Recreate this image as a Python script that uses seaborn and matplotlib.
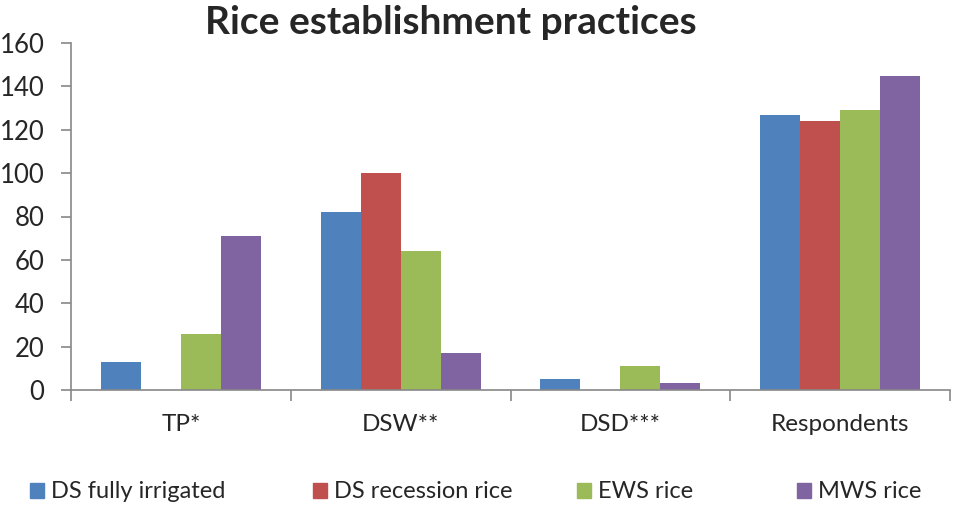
import pandas as pd
import numpy as np
import matplotlib
matplotlib.use('Agg')
import matplotlib.pyplot as plt
import seaborn as sns

categories = ['TP*', 'DSW**', 'DSD***', 'Respondents']
ds_fully_irrigated = [13, 82, 5, 127]
ds_recession_rice = [0, 100, 0, 124]
ews_rice = [26, 64, 11, 129]
mws_rice = [71, 17, 3, 145]
series_names = ['DS fully irrigated', 'DS recession rice', 'EWS rice', 'MWS rice']
colors = ['#4F81BD', '#C0504D', '#9BBB59', '#8064A2']

rows = []
for name, vals in zip(series_names, [ds_fully_irrigated, ds_recession_rice, ews_rice, mws_rice]):
    for cat, v in zip(categories, vals):
        rows.append({'practice': cat, 'series': name, 'count': v})
df = pd.DataFrame(rows)

sns.set_style('white')
plt.rcParams['font.family'] = ['Lato', 'DejaVu Sans']

fig = plt.figure(figsize=(9.61, 5.12), dpi=100)
ax = fig.add_axes([71/961, 1-390/512, (950-71)/961, (390-43)/512])

sns.barplot(data=df, x='practice', y='count', hue='series', hue_order=series_names,
            order=categories, palette=colors, width=0.727, saturation=1,
            linewidth=0, ax=ax, legend=False)

ax.set_xlim(-0.5, 3.5)
ax.set_ylim(0, 160)
ax.set_yticks(np.arange(0, 161, 20))
ax.set_xlabel('')
ax.set_ylabel('')
for s in ['top', 'right']:
    ax.spines[s].set_visible(False)
for s in ['left', 'bottom']:
    ax.spines[s].set_color('#888888')
    ax.spines[s].set_linewidth(1.2)

ax.tick_params(axis='y', direction='out', length=7, width=1.2, color='#888888',
               labelsize=18.5, pad=12, left=True)
ax.tick_params(axis='x', which='major', length=0, labelsize=17.5, pad=17)
ax.set_xticks(np.arange(-0.5, 3.6, 1), minor=True)
ax.tick_params(axis='x', which='minor', direction='out', length=8, width=1.2,
               color='#888888', bottom=True)

fig.text(451/961, 1-22/512, 'Rice establishment practices', ha='center', va='center',
         fontsize=28, fontweight='bold')

# legend entries sit at fixed x positions like the original
legend_x = [30, 313, 577, 797]
for name, c, x in zip(series_names, colors, legend_x):
    h = plt.Rectangle((0, 0), 1, 1, color=c)
    fig.legend([h], [name], loc='center left', bbox_to_anchor=(x/961, 1-492/512),
               frameon=False, fontsize=17, handlelength=0.6, handleheight=0.6,
               handletextpad=0.3, borderaxespad=0, borderpad=0)

fig.savefig('out.png', dpi=100)
